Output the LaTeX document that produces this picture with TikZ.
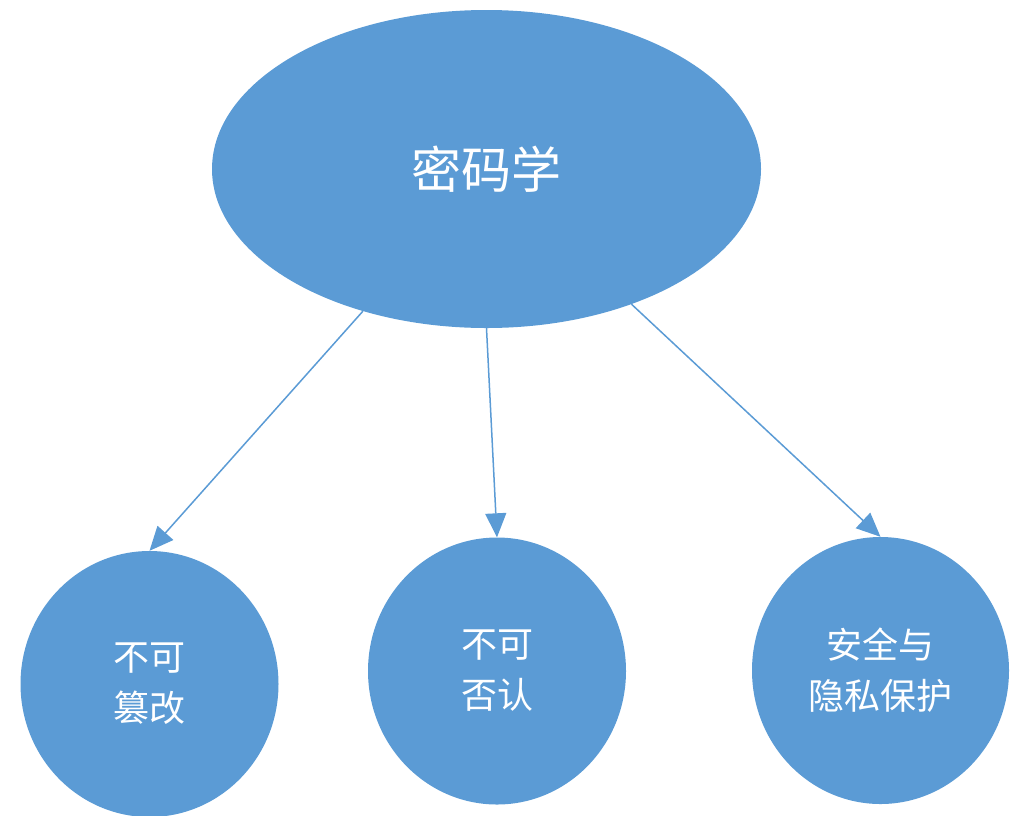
\documentclass[tikz,border=0pt]{standalone}
\usepackage{fontspec}
\newfontfamily\cjk{Noto Sans CJK SC}
\usetikzlibrary{shapes.geometric,arrows.meta}
\definecolor{officeblue}{HTML}{5B9BD5}
\tikzset{
  bubble/.style={ellipse, fill=officeblue, draw=none, inner sep=0pt, text=white, align=center},
  link/.style={draw=officeblue, line width=1.5pt, -{Triangle[length=24pt,width=21pt]}},
  big/.style={font=\cjk\fontsize{50}{50}\selectfont},
  small/.style={font=\cjk\fontsize{36}{51}\selectfont}
}
\begin{document}
\begin{tikzpicture}[x=1pt,y=-1pt]
\useasboundingbox (0,0) rectangle (1022,815);
\node[bubble, big, minimum width=549pt, minimum height=318pt] (top) at (486.5,169) {密码学};
\node[bubble, small, minimum width=258pt, minimum height=266pt] (l) at (149.5,684) {不可\\篡改};
\node[bubble, small, minimum width=258pt, minimum height=267pt] (m) at (497,671) {不可\\否认};
\node[bubble, small, minimum width=257pt, minimum height=267pt] (r) at (880.5,670.5) {安全与\\隐私保护};
\draw[link] (top.-131.5) -- (l.north);
\draw[link] (top.south) -- (m.north);
\draw[link] (top.-43) -- (r.north);
\end{tikzpicture}
\end{document}
